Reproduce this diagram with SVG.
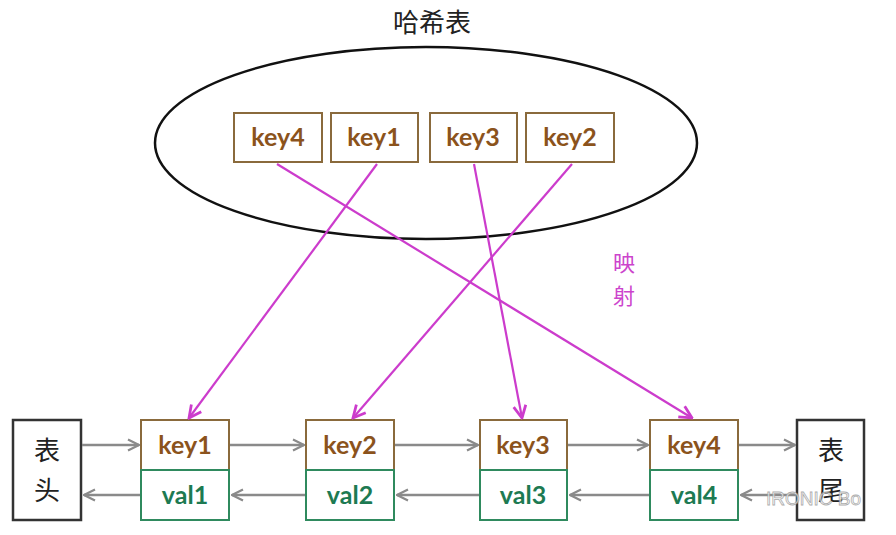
<svg xmlns="http://www.w3.org/2000/svg" width="896" height="535" viewBox="0 0 896 535">
<defs>
<style>
.k{fill:#fff;stroke:#8a6a3c;stroke-width:2}
.v{fill:#fff;stroke:#2f8a5e;stroke-width:2}
.kt{font-family:Lato,"Open Sans",sans-serif;font-weight:bold;font-size:25px;fill:#8b531c;text-anchor:middle}
.vt{font-family:Lato,"Open Sans",sans-serif;font-weight:bold;font-size:25px;fill:#1d7a52;text-anchor:middle}
.end{fill:#fff;stroke:#333;stroke-width:2.5}
.cj{font-family:"Noto Sans CJK SC",sans-serif;font-size:26px;fill:#222;text-anchor:middle}
.mt{font-family:"Noto Sans CJK SC",sans-serif;font-size:22px;fill:#cc44cc;text-anchor:middle}
.g{stroke:#8a8a8a;stroke-width:2.5;fill:none;marker-end:url(#ga)}
.m{stroke:#cc3ccc;stroke-width:2.2;fill:none;marker-end:url(#ma)}
</style>
<marker id="ga" viewBox="0 0 10 10" refX="9" refY="5" markerWidth="5.5" markerHeight="5.5" orient="auto" markerUnits="strokeWidth"><path d="M1,1 L9,5 L1,9" fill="none" stroke="#8a8a8a" stroke-width="1.6"/></marker>
<marker id="ma" viewBox="0 0 10 10" refX="9" refY="5" markerWidth="7" markerHeight="7" orient="auto" markerUnits="strokeWidth"><path d="M1,1 L9,5 L1,9" fill="none" stroke="#cc3ccc" stroke-width="1.8"/></marker>
</defs>
<rect width="896" height="535" fill="#fff"/>
<text x="432" y="32" class="cj" font-size="27">哈希表</text>
<g id="hashtable">
<ellipse cx="426" cy="143" rx="271" ry="96" fill="none" stroke="#111" stroke-width="2.5"/>
</g>
<g id="h-key4"><rect class="k" x="234" y="113" width="88" height="49"/><text class="kt" x="278" y="146">key4</text></g>
<g id="h-key1"><rect class="k" x="331" y="113" width="87" height="49"/><text class="kt" x="374" y="146">key1</text></g>
<g id="h-key3"><rect class="k" x="430" y="113" width="87" height="49"/><text class="kt" x="473" y="146">key3</text></g>
<g id="h-key2"><rect class="k" x="526" y="113" width="88" height="49"/><text class="kt" x="570" y="146">key2</text></g>
<g id="head"><rect class="end" x="13" y="420" width="68" height="100"/><text class="cj" x="47" y="460">表</text><text class="cj" x="47" y="500">头</text></g>
<g id="tail"><rect class="end" x="797" y="420" width="67" height="100"/><text class="cj" x="831" y="460">表</text><text class="cj" x="831" y="500">尾</text></g>
<g id="node1"><rect class="k" x="141" y="420" width="88" height="50"/><rect class="v" x="141" y="470" width="88" height="50"/><text class="kt" x="185" y="454">key1</text><text class="vt" x="185" y="504">val1</text></g>
<g id="node2"><rect class="k" x="306" y="420" width="88" height="50"/><rect class="v" x="306" y="470" width="88" height="50"/><text class="kt" x="350" y="454">key2</text><text class="vt" x="350" y="504">val2</text></g>
<g id="node3"><rect class="k" x="480" y="420" width="87" height="50"/><rect class="v" x="480" y="470" width="87" height="50"/><text class="kt" x="523" y="454">key3</text><text class="vt" x="523" y="504">val3</text></g>
<g id="node4"><rect class="k" x="650" y="420" width="88" height="50"/><rect class="v" x="650" y="470" width="88" height="50"/><text class="kt" x="694" y="454">key4</text><text class="vt" x="694" y="504">val4</text></g>
<g id="connectors">
<line class="g" x1="82" y1="445" x2="139" y2="445"/>
<line class="g" x1="230" y1="445" x2="304" y2="445"/>
<line class="g" x1="395" y1="445" x2="478" y2="445"/>
<line class="g" x1="568" y1="445" x2="648" y2="445"/>
<line class="g" x1="739" y1="445" x2="795" y2="445"/>
<line class="g" x1="140" y1="495" x2="84" y2="495"/>
<line class="g" x1="305" y1="495" x2="232" y2="495"/>
<line class="g" x1="479" y1="495" x2="397" y2="495"/>
<line class="g" x1="649" y1="495" x2="570" y2="495"/>
<line class="g" x1="796" y1="495" x2="741" y2="495"/>
<line class="m" x1="277" y1="164" x2="692" y2="418"/>
<line class="m" x1="377" y1="164" x2="189" y2="418"/>
<line class="m" x1="474" y1="164" x2="522" y2="418"/>
<line class="m" x1="572" y1="164" x2="353" y2="418"/>
</g>
<text x="624" y="271" class="mt">映</text>
<text x="624" y="304" class="mt">射</text>
<text x="766" y="505" font-family="Liberation Sans,sans-serif" font-size="19" fill="#fff" stroke="#999" stroke-width="0.8" opacity="0.8">IRONIC Bo</text>
</svg>
